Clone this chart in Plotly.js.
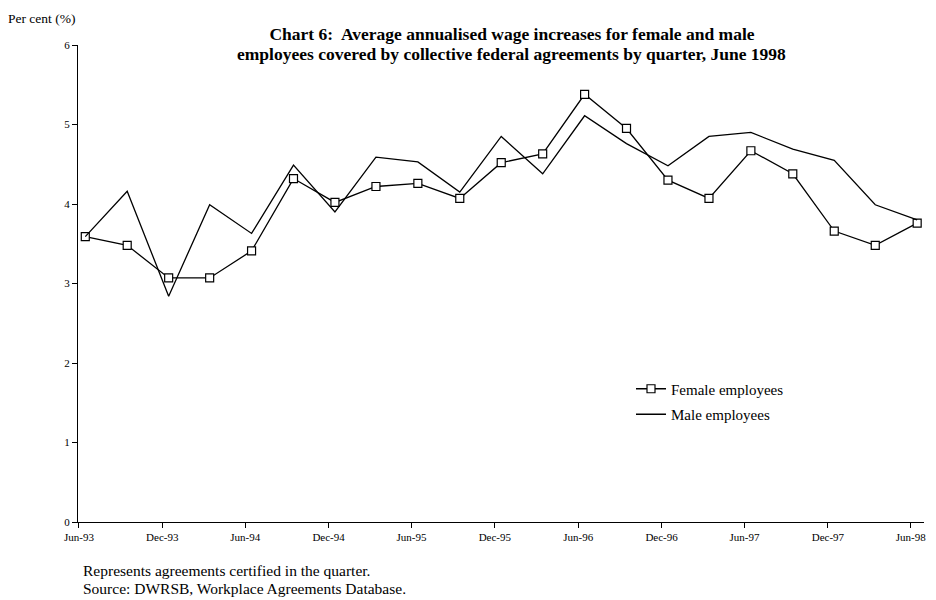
<!DOCTYPE html>
<html>
<head>
<meta charset="utf-8">
<script src="https://cdn.plot.ly/plotly-3.0.1.min.js"></script>
<style>
html,body{margin:0;padding:0;background:#fff;}
#chart{width:936px;height:600px;}
</style>
</head>
<body>
<div id="chart"></div>
<script>
// Quarter dates (data points plotted mid-month, as in the source)
const quarterDates = [
  '1993-06-15','1993-09-15','1993-12-15','1994-03-15','1994-06-15','1994-09-15','1994-12-15',
  '1995-03-15','1995-06-15','1995-09-15','1995-12-15','1996-03-15','1996-06-15','1996-09-15',
  '1996-12-15','1997-03-15','1997-06-15','1997-09-15','1997-12-15','1998-03-15','1998-06-15'
];
const femaleValues = [3.59,3.48,3.07,3.07,3.41,4.32,4.02,4.22,4.26,4.07,4.52,4.63,5.38,4.95,4.30,4.07,4.67,4.38,3.66,3.48,3.76];
const maleValues   = [3.59,4.16,2.84,3.99,3.63,4.49,3.90,4.59,4.53,4.15,4.85,4.38,5.11,4.76,4.48,4.85,4.90,4.69,4.55,3.99,3.80];
const tickDates  = ['1993-06-01','1993-12-01','1994-06-01','1994-12-01','1995-06-01','1995-12-01',
                    '1996-06-01','1996-12-01','1997-06-01','1997-12-01','1998-06-01'];
const tickLabels = ['Jun-93','Dec-93','Jun-94','Dec-94','Jun-95','Dec-95','Jun-96','Dec-96','Jun-97','Dec-97','Jun-98'];
const yTicks = [0,1,2,3,4,5,6];
const titleLine1 = 'Chart 6:  Average annualised wage increases for female and male';
const titleLine2 = 'employees covered by collective federal agreements by quarter, June 1998';

const serif = 'Liberation Serif, Times New Roman, serif';

const traces = [
  {
    x: quarterDates, y: femaleValues, name: 'Female employees', type: 'scatter', mode: 'lines+markers',
    legendgroup: 'f',
    line: {color: '#000', width: 1.3},
    marker: {symbol: 'square', size: 8, color: '#fff', line: {color: '#000', width: 1.2}}
  },
  {
    x: quarterDates, y: maleValues, name: 'Male employees', type: 'scatter', mode: 'lines',
    legendgroup: 'm',
    line: {color: '#000', width: 1.3}
  }
];

const layout = {
  width: 936, height: 600,
  margin: {l: 78, r: 12, t: 45, b: 78},
  paper_bgcolor: '#fff', plot_bgcolor: '#fff',
  font: {family: serif, color: '#000', size: 11},
  title: {
    text: '<b>' + titleLine1 + '</b>',
    font: {family: serif, size: 17.5, color: '#000'},
    x: 512/936, xanchor: 'center', xref: 'container',
    y: 1 - 34/600, yanchor: 'middle', yref: 'container'
  },
  xaxis: {
    type: 'date',
    range: ['1993-05-30', '1998-06-30'],
    tickmode: 'array', tickvals: tickDates, ticktext: tickLabels,
    showgrid: false, zeroline: false,
    showline: true, linecolor: '#000', linewidth: 1,
    ticks: 'outside', ticklen: 5, tickcolor: '#000', tickwidth: 1,
    tickfont: {family: serif, size: 11, color: '#000'},
    fixedrange: true
  },
  yaxis: {
    range: [0, 6],
    tickmode: 'array', tickvals: yTicks,
    showgrid: false, zeroline: false,
    showline: true, linecolor: '#000', linewidth: 1,
    ticks: 'outside', ticklen: 5, tickcolor: '#000', tickwidth: 1,
    tickfont: {family: serif, size: 11, color: '#000'},
    fixedrange: true
  },
  showlegend: true,
  legend: {
    x: (631-78)/846, xanchor: 'left',
    y: (522.5-373)/477, yanchor: 'top',
    bgcolor: 'rgba(0,0,0,0)', borderwidth: 0,
    font: {family: serif, size: 15, color: '#000'},
    traceorder: 'grouped', tracegroupgap: 3
  },
  annotations: [
    {text: '<b>' + titleLine2 + '</b>', xref: 'paper', yref: 'paper', x: (512-78)/846, y: 1 - (54-45)/477, xanchor: 'center', yanchor: 'middle', showarrow: false, font: {family: serif, size: 17.5, color: '#000'}},
    {text: 'Per cent (%)', xref: 'paper', yref: 'paper', x: -72.5/846, y: 1 + 27/477, xanchor: 'left', yanchor: 'middle', showarrow: false, font: {family: serif, size: 13.5, color: '#000'}},
    {text: 'Represents agreements certified in the quarter.', xref: 'paper', yref: 'paper', x: 3/846, y: -(571-522.5)/477, xanchor: 'left', yanchor: 'middle', showarrow: false, font: {family: serif, size: 15.5, color: '#000'}},
    {text: 'Source: DWRSB, Workplace Agreements Database.', xref: 'paper', yref: 'paper', x: 3/846, y: -(589-522.5)/477, xanchor: 'left', yanchor: 'middle', showarrow: false, font: {family: serif, size: 15.5, color: '#000'}}
  ]
};

Plotly.newPlot('chart', traces, layout, {displayModeBar: false, staticPlot: true});
</script>
</body>
</html>
